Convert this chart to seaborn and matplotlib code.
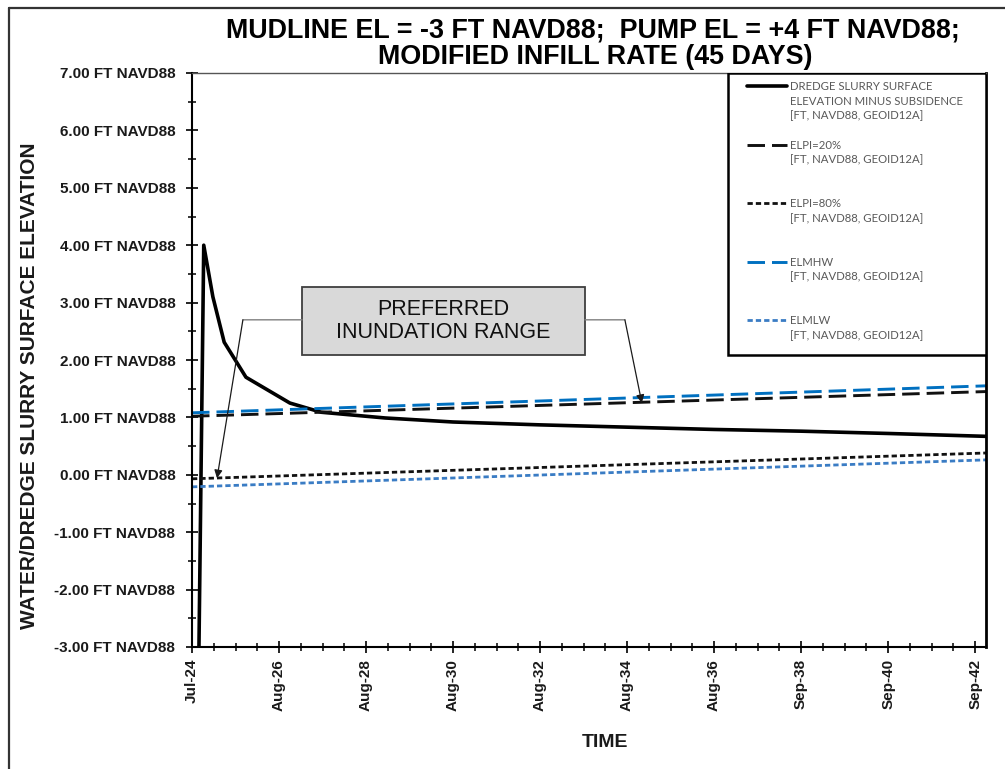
import matplotlib
matplotlib.use("Agg")
import numpy as np
import pandas as pd
import matplotlib.pyplot as plt
from matplotlib.lines import Line2D
from matplotlib.patches import Rectangle
from matplotlib.ticker import FixedLocator, MultipleLocator
import seaborn as sns

## data  (time in years after start, first tick = Jul-24)
slurry_t = [0.16, 0.27, 0.48, 0.74, 1.24, 2.25, 2.97, 4.44, 6.0, 8.0,
            10.0, 12.0, 14.0, 16.0, 18.25]
slurry_el = [-3.0, 4.0, 3.10, 2.31, 1.70, 1.25, 1.09, 0.99, 0.92, 0.87,
             0.83, 0.79, 0.76, 0.72, 0.67]

trend_t = [0.0, 18.25]
elpi20 = [1.02, 1.45]
elpi80 = [-0.07, 0.38]
elmhw = [1.08, 1.55]
elmlw = [-0.21, 0.26]

x_tick_pos = [0, 2, 4, 6, 8, 10, 12, 14, 16, 18]
x_tick_labels = ["Jul-24", "Aug-26", "Aug-28", "Aug-30", "Aug-32",
                 "Aug-34", "Aug-36", "Sep-38", "Sep-40", "Sep-42"]
y_ticks = [-3, -2, -1, 0, 1, 2, 3, 4, 5, 6, 7]

## style
sns.set_theme(style="ticks")
plt.rcParams["font.family"] = ["Liberation Sans", "DejaVu Sans"]

fig = plt.figure(figsize=(10.05, 7.69), dpi=100)
ax = fig.add_axes([192 / 1005, 1 - 647 / 769, 794 / 1005, 574 / 769])

BLACK = "#000000"
BLUE = "#0070C0"
BLUE2 = "#3A7CC4"

## lines
sns.lineplot(x=slurry_t, y=slurry_el, ax=ax, color=BLACK, lw=2.6, sort=False)
sns.lineplot(x=trend_t, y=elpi20, ax=ax, color="#111111", lw=2.1,
             linestyle=(0, (6, 2.4)))
sns.lineplot(x=trend_t, y=elpi80, ax=ax, color="#111111", lw=2.0,
             linestyle=(0, (1.9, 1.1)))
sns.lineplot(x=trend_t, y=elmhw, ax=ax, color=BLUE, lw=2.1,
             linestyle=(0, (6, 2.4)))
sns.lineplot(x=trend_t, y=elmlw, ax=ax, color=BLUE2, lw=2.0,
             linestyle=(0, (1.9, 1.1)))
h_slurry, h_p20, h_p80, h_mhw, h_mlw = ax.lines[:5]

## axes
ax.set_xlim(0, 18.25)
ax.set_ylim(-3, 7)
ax.xaxis.set_major_locator(FixedLocator(x_tick_pos))
ax.set_xticklabels(x_tick_labels, rotation=90)
ax.xaxis.set_minor_locator(MultipleLocator(0.5))
ax.yaxis.set_major_locator(FixedLocator(y_ticks))
ax.set_yticklabels([f"{v:.2f} FT NAVD88" for v in y_ticks])
ax.yaxis.set_minor_locator(MultipleLocator(0.5))
ax.tick_params(which="major", direction="inout", length=8, width=1.2,
               color=BLACK, labelsize=11, labelcolor="#1a1a1a")
ax.tick_params(which="minor", direction="inout", length=6, width=1.1, color=BLACK)
ax.tick_params(axis="y", which="major", pad=8)
ax.tick_params(axis="x", which="major", pad=4.5)
for lab in ax.get_xticklabels() + ax.get_yticklabels():
    lab.set_fontweight("bold")

for side in ["left", "bottom"]:
    ax.spines[side].set_linewidth(1.5)
    ax.spines[side].set_color(BLACK)
ax.spines["right"].set_linewidth(2.0)
ax.spines["right"].set_color(BLACK)
ax.spines["top"].set_linewidth(1.0)
ax.spines["top"].set_color("#555555")
ax.grid(False)

ax.set_ylabel("WATER/DREDGE SLURRY SURFACE ELEVATION", fontsize=15,
              fontweight="bold", color="#1a1a1a")
ax.yaxis.set_label_coords(-0.193, 0.455)
ax.set_xlabel("TIME", fontsize=14, fontweight="bold", color="#1a1a1a")
ax.xaxis.set_label_coords(0.52, -0.152)

## title
fig.text(0.59, 1 - 31 / 769, "MUDLINE EL = -3 FT NAVD88;  PUMP EL = +4 FT NAVD88;",
         ha="center", va="center", fontsize=19.4, fontweight="bold", color=BLACK)
fig.text(0.592, 1 - 57 / 769, "MODIFIED INFILL RATE (45 DAYS)",
         ha="center", va="center", fontsize=19.4, fontweight="bold", color=BLACK)

## outer border
fig.add_artist(Line2D([9 / 1005, 1.0], [1 - 8 / 769] * 2, transform=fig.transFigure,
                      color="#333333", lw=1.6))
fig.add_artist(Line2D([9 / 1005] * 2, [0.0, 1 - 8 / 769], transform=fig.transFigure,
                      color="#333333", lw=1.6))

## legend (own frame, rows so handle sits on first text line)
ax.add_patch(Rectangle((0.675, 0.5087), 0.325, 0.4913, transform=ax.transAxes,
                       fc="white", ec=BLACK, lw=1.8, zorder=5))
blank = Line2D([], [], color="none")
ft = "[FT, NAVD88, GEOID12A]"
rows = [(h_slurry, "DREDGE SLURRY SURFACE"), (blank, "ELEVATION MINUS SUBSIDENCE"),
        (blank, ft), (blank, " "),
        (h_p20, "ELPI=20%"), (blank, ft), (blank, " "), (blank, " "),
        (h_p80, "ELPI=80%"), (blank, ft), (blank, " "), (blank, " "),
        (h_mhw, "ELMHW"), (blank, ft), (blank, " "), (blank, " "),
        (h_mlw, "ELMLW"), (blank, ft)]
leg = ax.legend([r[0] for r in rows], [r[1] for r in rows], loc="upper left",
                bbox_to_anchor=((747 - 192) / 794, (647 - 81) / 574),
                frameon=False, borderpad=0, borderaxespad=0, labelspacing=0.32,
                handlelength=3.5, handletextpad=0.3,
                prop={"family": "Lato", "size": 8.2}, labelcolor="#595959")
leg.set_zorder(6)

## callout
ax.add_patch(Rectangle((2.53, 2.09), 6.50, 1.18, fc="#d9d9d9", ec="#3f3f3f",
                       lw=1.3, zorder=3))
ax.text(5.78, 2.68, "PREFERRED\nINUNDATION RANGE", ha="center", va="center",
        fontsize=15.5, color="#111111", linespacing=1.15, zorder=4)
gray_seg = dict(arrowstyle="-", color="#808080", lw=1.0, shrinkA=0, shrinkB=0)
arrow = dict(arrowstyle="-|>", color="#1a1a1a", lw=0.9, mutation_scale=12,
             shrinkA=0, shrinkB=0)
ax.annotate("", xy=(1.17, 2.70), xytext=(2.53, 2.70), arrowprops=gray_seg)
ax.annotate("", xy=(0.575, -0.06), xytext=(1.17, 2.70), arrowprops=arrow)
ax.annotate("", xy=(9.95, 2.70), xytext=(9.03, 2.70), arrowprops=gray_seg)
ax.annotate("", xy=(10.34, 1.25), xytext=(9.95, 2.70), arrowprops=arrow)

fig.savefig("out.png", dpi=100)
